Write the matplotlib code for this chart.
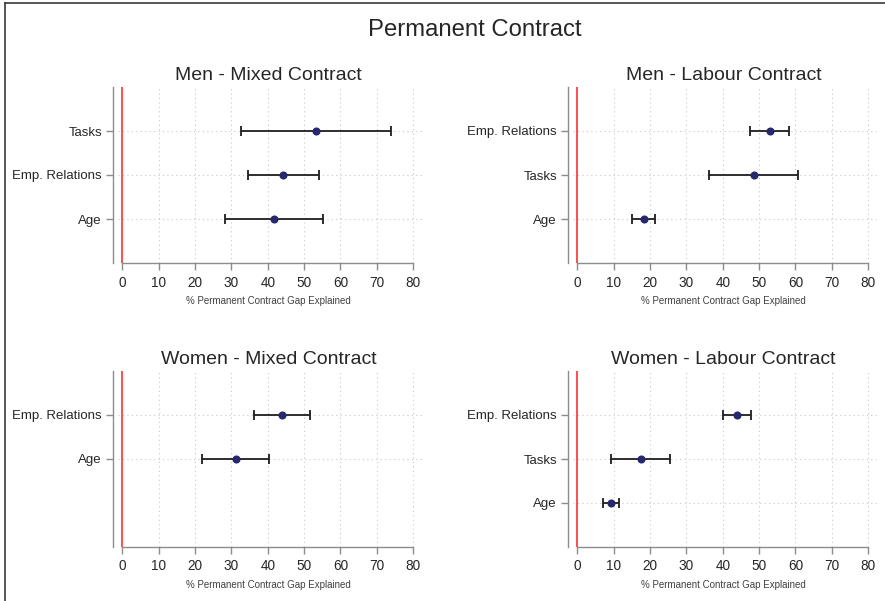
import numpy as np
import matplotlib.pyplot as plt
from matplotlib.lines import Line2D

plt.rcParams['font.family'] = ['Liberation Sans', 'DejaVu Sans']

# point estimates and 95% intervals, by panel (rows listed bottom to top)
men_mixed_labels = ['Age', 'Emp. Relations', 'Tasks']
men_mixed_pos = [1, 2, 3]
men_mixed_est = [41.7, 44.3, 53.4]
men_mixed_lo = [28.3, 34.6, 32.6]
men_mixed_hi = [55.1, 54.0, 74.0]

men_labour_labels = ['Age', 'Tasks', 'Emp. Relations']
men_labour_pos = [1, 2, 3]
men_labour_est = [18.2, 48.5, 52.9]
men_labour_lo = [14.9, 36.1, 47.6]
men_labour_hi = [21.3, 60.7, 58.1]

women_mixed_labels = ['Age', 'Emp. Relations']
women_mixed_pos = [2, 3]
women_mixed_est = [31.2, 43.8]
women_mixed_lo = [22.0, 36.1]
women_mixed_hi = [40.2, 51.5]

women_labour_labels = ['Age', 'Tasks', 'Emp. Relations']
women_labour_pos = [1, 2, 3]
women_labour_est = [9.2, 17.4, 44.0]
women_labour_lo = [6.9, 9.1, 40.0]
women_labour_hi = [11.4, 25.5, 47.8]

xticks = [0, 10, 20, 30, 40, 50, 60, 70, 80]

W, H = 885, 601
fig = plt.figure(figsize=(W / 100, H / 100), dpi=100)
fig.patch.set_facecolor('white')

txt = '#262626'
axc = '#8c8c8c'


def px_ax(x0, y0, x1, y1):
    return fig.add_axes([x0 / W, 1 - y1 / H, (x1 - x0) / W, (y1 - y0) / H])


def panel(ax, title, labels, pos, est, lo, hi):
    ax.set_xlim(-2.6, 83)
    ax.set_ylim(0, 4)
    for s in ['top', 'right']:
        ax.spines[s].set_visible(False)
    ax.spines['left'].set_color(axc)
    ax.spines['bottom'].set_color(axc)
    ax.spines['left'].set_linewidth(1.0)
    ax.spines['bottom'].set_linewidth(1.0)
    ax.spines['bottom'].set_bounds(0, 80)
    ax.set_xticks(xticks)
    ax.set_yticks(pos)
    ax.set_yticklabels(labels)
    ax.tick_params(axis='x', length=5, width=1, color=axc, labelsize=9.8,
                   labelcolor=txt, pad=4)
    ax.tick_params(axis='y', length=5, width=1, color=axc, labelsize=9.5,
                   labelcolor=txt, pad=3)
    # dotted grid
    for x in xticks[1:]:
        ax.axvline(x, color='#c8c8c8', lw=0.8, ls=(0, (1, 3)), zorder=0)
    for y in pos:
        ax.axhline(y, xmin=0.015, color='#c8c8c8', lw=0.8, ls=(0, (1, 3)), zorder=0)
    ax.axvline(0, color='#ff4d4d', lw=1.4, zorder=1)
    est = np.array(est)
    err = [est - np.array(lo), np.array(hi) - est]
    ax.errorbar(est, pos, xerr=err, fmt='none', ecolor='#1e1e1e',
                elinewidth=1.3, capsize=3.5, capthick=1.3, zorder=2)
    ax.plot(est, pos, 'o', color='#27276e', ms=4.8, zorder=3)
    ax.set_title(title, fontsize=14, color=txt, pad=5)
    ax.set_xlabel('% Permanent Contract Gap Explained', fontsize=7,
                  color='#404040', labelpad=5)


ax1 = px_ax(113, 87, 424, 263)
panel(ax1, 'Men - Mixed Contract', men_mixed_labels, men_mixed_pos,
      men_mixed_est, men_mixed_lo, men_mixed_hi)
ax2 = px_ax(568, 87, 879, 263)
panel(ax2, 'Men - Labour Contract', men_labour_labels, men_labour_pos,
      men_labour_est, men_labour_lo, men_labour_hi)
ax3 = px_ax(113, 371, 424, 547)
panel(ax3, 'Women - Mixed Contract', women_mixed_labels, women_mixed_pos,
      women_mixed_est, women_mixed_lo, women_mixed_hi)
ax4 = px_ax(568, 371, 879, 547)
panel(ax4, 'Women - Labour Contract', women_labour_labels, women_labour_pos,
      women_labour_est, women_labour_lo, women_labour_hi)

fig.text(475 / W, 1 - 29.5 / H, 'Permanent Contract', ha='center', va='center',
         fontsize=17.2, color=txt)

# outer frame (left and top edges)
fig.add_artist(Line2D([4.5 / W, 4.5 / W], [0, 1 - 2.5 / H], color='#3a3a3a', lw=1.2))
fig.add_artist(Line2D([4.5 / W, 1], [1 - 2.5 / H, 1 - 2.5 / H], color='#3a3a3a', lw=1.2))

fig.savefig('out.png', dpi=100)
